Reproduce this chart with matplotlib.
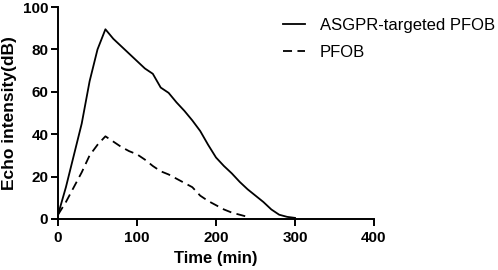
import matplotlib
matplotlib.use("Agg")
import matplotlib.pyplot as plt

time_solid = [0, 10, 20, 30, 40, 50, 60, 70, 80, 90, 100, 110, 120, 130, 140, 150,
              160, 170, 180, 190, 200, 210, 220, 230, 240, 250, 260, 270, 280, 290, 300]
asgpr = [2, 15, 30, 45, 65, 80, 89.5, 85, 81.5, 78, 74.5, 71, 68.5, 62, 59.5, 55,
         51, 46.5, 41.5, 35, 29, 25, 21.5, 17.5, 14, 11, 8, 4.5, 2, 1, 0.5]
time_dash = [0, 10, 20, 30, 40, 50, 60, 70, 80, 90, 100, 110, 120, 130, 140, 150,
             160, 170, 180, 190, 200, 210, 220, 230, 240]
pfob = [2, 8, 15, 22, 30, 35, 39, 36.5, 34, 32, 30.5, 28, 25, 22.5, 21, 19,
        17, 15, 11, 8.5, 6.5, 4.5, 3, 2, 1]
labels = ["ASGPR-targeted PFOB", "PFOB"]

plt.rcParams['font.family'] = ['Liberation Sans', 'DejaVu Sans']
fig = plt.figure(figsize=(4.98, 2.70), dpi=100)
ax = fig.add_axes([0.1165, 0.189, 0.6345, 0.785])

ax.plot(time_solid, asgpr, color='black', lw=1.3, label=labels[0])
ax.plot(time_dash, pfob, color='black', lw=1.3, linestyle=(0, (5, 3)), label=labels[1])

ax.set_xlim(0, 400)
ax.set_ylim(0, 100)
ax.set_xticks([0, 100, 200, 300, 400])
ax.set_yticks([0, 20, 40, 60, 80, 100])
for s in ['top', 'right']:
    ax.spines[s].set_visible(False)
for s in ['left', 'bottom']:
    ax.spines[s].set_linewidth(1.4)
ax.tick_params(width=1.4, length=5, labelsize=11)
ax.tick_params(axis='x', pad=4)
ax.tick_params(axis='y', pad=2)
for lab in ax.get_xticklabels() + ax.get_yticklabels():
    lab.set_fontweight('bold')
ax.set_xlabel("Time (min)", fontsize=12, fontweight='bold', labelpad=4)
ax.set_ylabel("Echo intensity(dB)", fontsize=12.5, fontweight='bold', labelpad=4)

fig.legend(loc='upper left', bbox_to_anchor=(0.538, 0.99), frameon=False,
           fontsize=12, handlelength=1.3, handletextpad=0.9, labelspacing=0.75)

fig.savefig("out.png", dpi=100)
